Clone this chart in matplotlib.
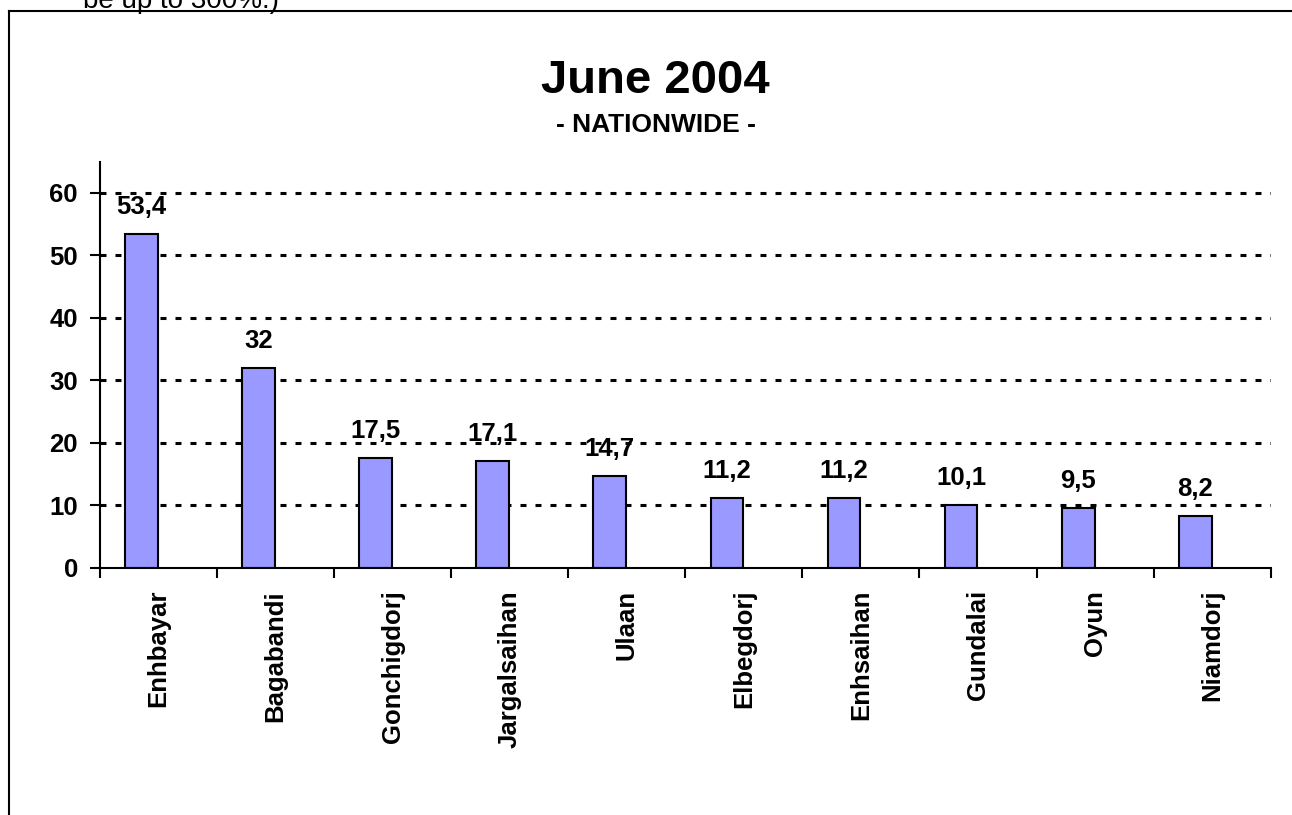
import matplotlib
matplotlib.use("Agg")
import matplotlib.pyplot as plt
from matplotlib.lines import Line2D

plt.rcParams['font.family'] = ['Liberation Sans', 'DejaVu Sans']
plt.rcParams['lines.scale_dashes'] = False

# data
names = ["Enhbayar", "Bagabandi", "Gonchigdorj", "Jargalsaihan", "Ulaan",
         "Elbegdorj", "Enhsaihan", "Gundalai", "Oyun", "Niamdorj"]
votes = [53.4, 32, 17.5, 17.1, 14.7, 11.2, 11.2, 10.1, 9.5, 8.2]
yticks = [0, 10, 20, 30, 40, 50, 60]

W, H = 1292, 815
fig = plt.figure(figsize=(W / 100, H / 100), dpi=100)

# page frame (runs off the right and bottom)
fx = 9 / W
fy = 1 - 11 / H
fig.add_artist(Line2D([fx, fx], [fy, -0.1], color='black', lw=1.5, transform=fig.transFigure))
fig.add_artist(Line2D([fx, 1.1], [fy, fy], color='black', lw=1.5, transform=fig.transFigure))

# leftover text from the page above
fig.text(83 / W, 1 - 8 / H, "be up to 300%.)", fontsize=20, ha='left', va='baseline')

ax = fig.add_axes([100 / W, 1 - 567.7 / H, 1170.7 / W, 406.2 / H])
ax.set_xlim(-0.5, len(names) - 0.5)
ax.set_ylim(0, 65)

for v in yticks[1:]:
    ax.axhline(v, color='black', lw=2.2, dashes=(4.3, 6.5), zorder=1)

x = list(range(len(names)))
bx = [i - 0.145 for i in x]
ax.bar(bx, votes, width=0.28, color='#9999FF', edgecolor='black', linewidth=1.5, zorder=2)

for i, v in zip(bx, votes):
    s = f"{v:g}".replace('.', ',')
    ax.annotate(s, (i, v), xytext=(0, 14.4), textcoords='offset points',
                ha='center', va='baseline', fontsize=18.5, fontweight='bold')

ax.spines['top'].set_visible(False)
ax.spines['right'].set_visible(False)
ax.spines['left'].set_linewidth(1.5)
ax.spines['bottom'].set_linewidth(1.5)

ax.set_yticks(yticks)
ax.set_yticklabels([str(t) for t in yticks], fontsize=18.5, fontweight='bold')
ax.tick_params(axis='y', direction='out', length=7, width=1.5, pad=9)

ax.set_xticks([i - 0.5 for i in range(len(names) + 1)])
ax.set_xticklabels([])
ax.tick_params(axis='x', which='major', direction='out', length=7, width=1.5)
ax.set_xticks(x, minor=True)
ax.set_xticklabels(names, minor=True, rotation=90, fontsize=18.5, fontweight='bold')
ax.tick_params(axis='x', which='minor', length=0, pad=16)

fig.text(655 / W, 1 - 93 / H, "June 2004", fontsize=34, fontweight='bold', ha='center', va='baseline')
fig.text(656 / W, 1 - 131.7 / H, "- NATIONWIDE -", fontsize=19, fontweight='bold', ha='center', va='baseline')

fig.savefig("out.png", dpi=100)
